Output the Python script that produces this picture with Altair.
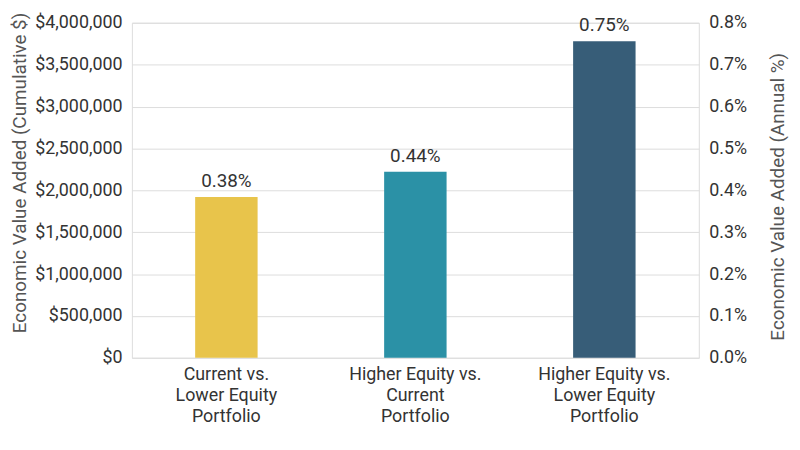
import altair as alt
import pandas as pd

categories = ["Current vs.|Lower Equity|Portfolio",
              "Higher Equity vs.|Current|Portfolio",
              "Higher Equity vs.|Lower Equity|Portfolio"]
dollars = [1920000, 2220000, 3780000]
pcts = [0.0038, 0.0044, 0.0075]
colors = ["#E8C44B", "#2B91A6", "#375D78"]

df = pd.DataFrame({"cat": categories, "dollars": dollars, "pct": pcts})

FONT = "Roboto"
FS = 18

x = alt.X("cat:N", sort=categories, title=None,
          scale=alt.Scale(paddingInner=0, paddingOuter=0),
          axis=alt.Axis(labelAngle=0, labelExpr="split(datum.label, '|')",
                        labelFontSize=FS, labelColor="#333333", labelFont=FONT,
                        labelLineHeight=21, labelPadding=8,
                        ticks=False, domain=False))

bars = alt.Chart(df).mark_bar(size=63).encode(
    x=x,
    y=alt.Y("dollars:Q", title="Economic Value Added (Cumulative $)",
            scale=alt.Scale(domain=[0, 4000000]),
            axis=alt.Axis(format="$,.0f", values=[i * 500000 for i in range(9)],
                          labelFontSize=FS, labelColor="#333333", labelFont=FONT,
                          labelPadding=10, titleFont=FONT, titleFontSize=19,
                          titleFontWeight="normal", titleColor="#555555",
                          titlePadding=5, titleY=151,
                          ticks=False, domain=False, gridColor="#dddddd")),
    color=alt.Color("cat:N", sort=categories,
                    scale=alt.Scale(domain=categories, range=colors), legend=None),
)

text = alt.Chart(df).mark_text(baseline="bottom", dy=-6, fontSize=19,
                               font=FONT, color="#333333").encode(
    x=alt.X("cat:N", sort=categories),
    y=alt.Y("dollars:Q"),
    text=alt.Text("pct:Q", format=".2%"),
)

right = alt.Chart(df).mark_point(opacity=0).encode(
    x=alt.X("cat:N", sort=categories),
    y=alt.Y("pct:Q", title="Economic Value Added (Annual %)",
            scale=alt.Scale(domain=[0, 0.008]),
            axis=alt.Axis(orient="right", format=".1%",
                          values=[i * 0.001 for i in range(9)],
                          labelFontSize=FS, labelColor="#333333", labelFont=FONT,
                          labelPadding=10, titleFont=FONT, titleFontSize=19,
                          titleFontWeight="normal", titleColor="#555555",
                          titleAngle=270, titleBaseline="top", titlePadding=22,
                          titleY=175,
                          ticks=False, domain=False, grid=False)),
)

chart = alt.layer(alt.layer(bars, text), right).resolve_scale(
    y="independent"
).properties(
    width=572, height=338,
    autosize=alt.AutoSizeParams(type="none"),
    padding={"left": 125, "top": 13, "right": 94, "bottom": 80},
).configure_view(stroke=None).configure(background="white")

chart.save("out.html", embed_options={"renderer": "svg", "actions": False})
